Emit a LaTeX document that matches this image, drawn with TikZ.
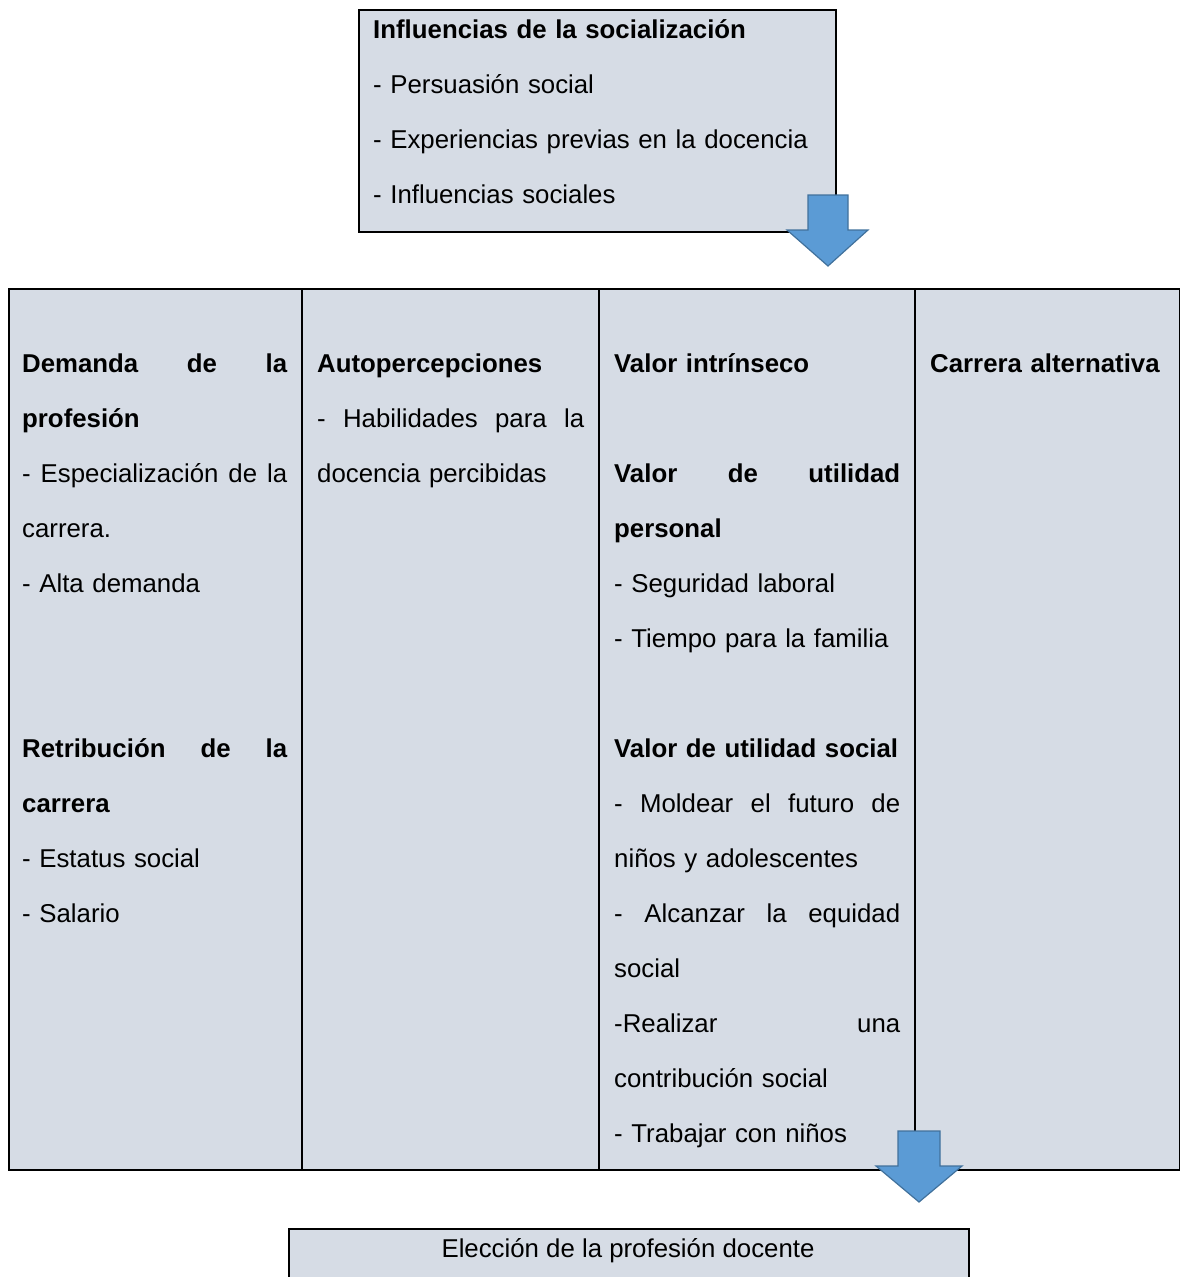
\documentclass[tikz,border=0pt]{standalone}
\usepackage{fontspec}
\setmainfont{Liberation Sans}
\definecolor{cellbg}{HTML}{D6DCE5}
\definecolor{arrowfill}{HTML}{5B9BD5}
\definecolor{arrowline}{HTML}{41719C}
\newcommand{\jline}[2]{\leavevmode\hbox to #1{\spaceskip=0.28em plus 10em\relax #2}}
\newcommand{\bodyfont}{\fontsize{25.8}{55}\selectfont}
\begin{document}
\begin{tikzpicture}[x=1pt,y=-1pt,
  frame/.style={draw=black,line width=1.6pt,fill=cellbg},
  txt/.style={inner sep=0pt,anchor=base west,align=left,font=\bodyfont},
  blockarrow/.style={fill=arrowfill,draw=arrowline,line width=1.2pt,line join=miter}]
\useasboundingbox (0,0) rectangle (1180,1277);
% top box
\node[frame,anchor=north west,minimum width=477pt,minimum height=222pt,inner sep=0pt] (topbox) at (358,9) {};
\node[txt,text width=450pt] (toptext) at (373,38) {\textbf{Influencias de la socialización}\\
- Persuasión social\\
- Experiencias previas en la docencia\\
- Influencias sociales};
% arrow 1
\draw[blockarrow] (808,195) -- (848,195) -- (848,230) -- (868,230) -- (828,266) -- (787,230) -- (808,230) -- cycle;
% main table
\node[frame,anchor=north west,minimum width=1171pt,minimum height=881pt,inner sep=0pt] (table) at (8,288) {};
\coordinate (v1t) at (302,288); \coordinate (v1b) at (302,1169);
\coordinate (v2t) at (599,288); \coordinate (v2b) at (599,1169);
\coordinate (v3t) at (915,288); \coordinate (v3b) at (915,1169);
\draw[line width=1.6pt] (v1t) -- (v1b) (v2t) -- (v2b) (v3t) -- (v3b);
\node[txt,text width=290pt] (col1) at (22,372) {\jline{265pt}{\bfseries Demanda de la}\\
\textbf{profesión}\\
\jline{265pt}{- Especialización de la}\\
carrera.\\
- Alta demanda\\
\mbox{}\\
\mbox{}\\
\jline{265pt}{\bfseries Retribución de la}\\
\textbf{carrera}\\
- Estatus social\\
- Salario};
\node[txt,text width=290pt] (col2) at (317,372) {\textbf{Autopercepciones}\\
\jline{267pt}{- Habilidades para la}\\
docencia percibidas};
\node[txt,text width=320pt] (col3) at (614,372) {\textbf{Valor intrínseco}\\
\mbox{}\\
\jline{286pt}{\bfseries Valor de utilidad}\\
\textbf{personal}\\
- Seguridad laboral\\
- Tiempo para la familia\\
\mbox{}\\
\mbox{\bfseries Valor de utilidad social}\\
\jline{286pt}{- Moldear el futuro de}\\
niños y adolescentes\\
\jline{286pt}{- Alcanzar la equidad}\\
social\\
\jline{286pt}{-Realizar una}\\
contribución social\\
- Trabajar con niños};
\node[txt,text width=240pt] (col4) at (930,372) {\textbf{Carrera alternativa}};
% arrow 2
\draw[blockarrow] (898,1131) -- (940,1131) -- (940,1166) -- (962,1166) -- (919,1202) -- (876,1166) -- (898,1166) -- cycle;
% bottom box
\node[frame,anchor=north west,minimum width=680pt,minimum height=90pt,inner sep=0pt] (bottombox) at (288,1228) {};
\node[inner sep=0pt,anchor=base,font=\bodyfont] (bottomtext) at (628,1257) {Elección de la profesión docente};
\end{tikzpicture}
\end{document}
